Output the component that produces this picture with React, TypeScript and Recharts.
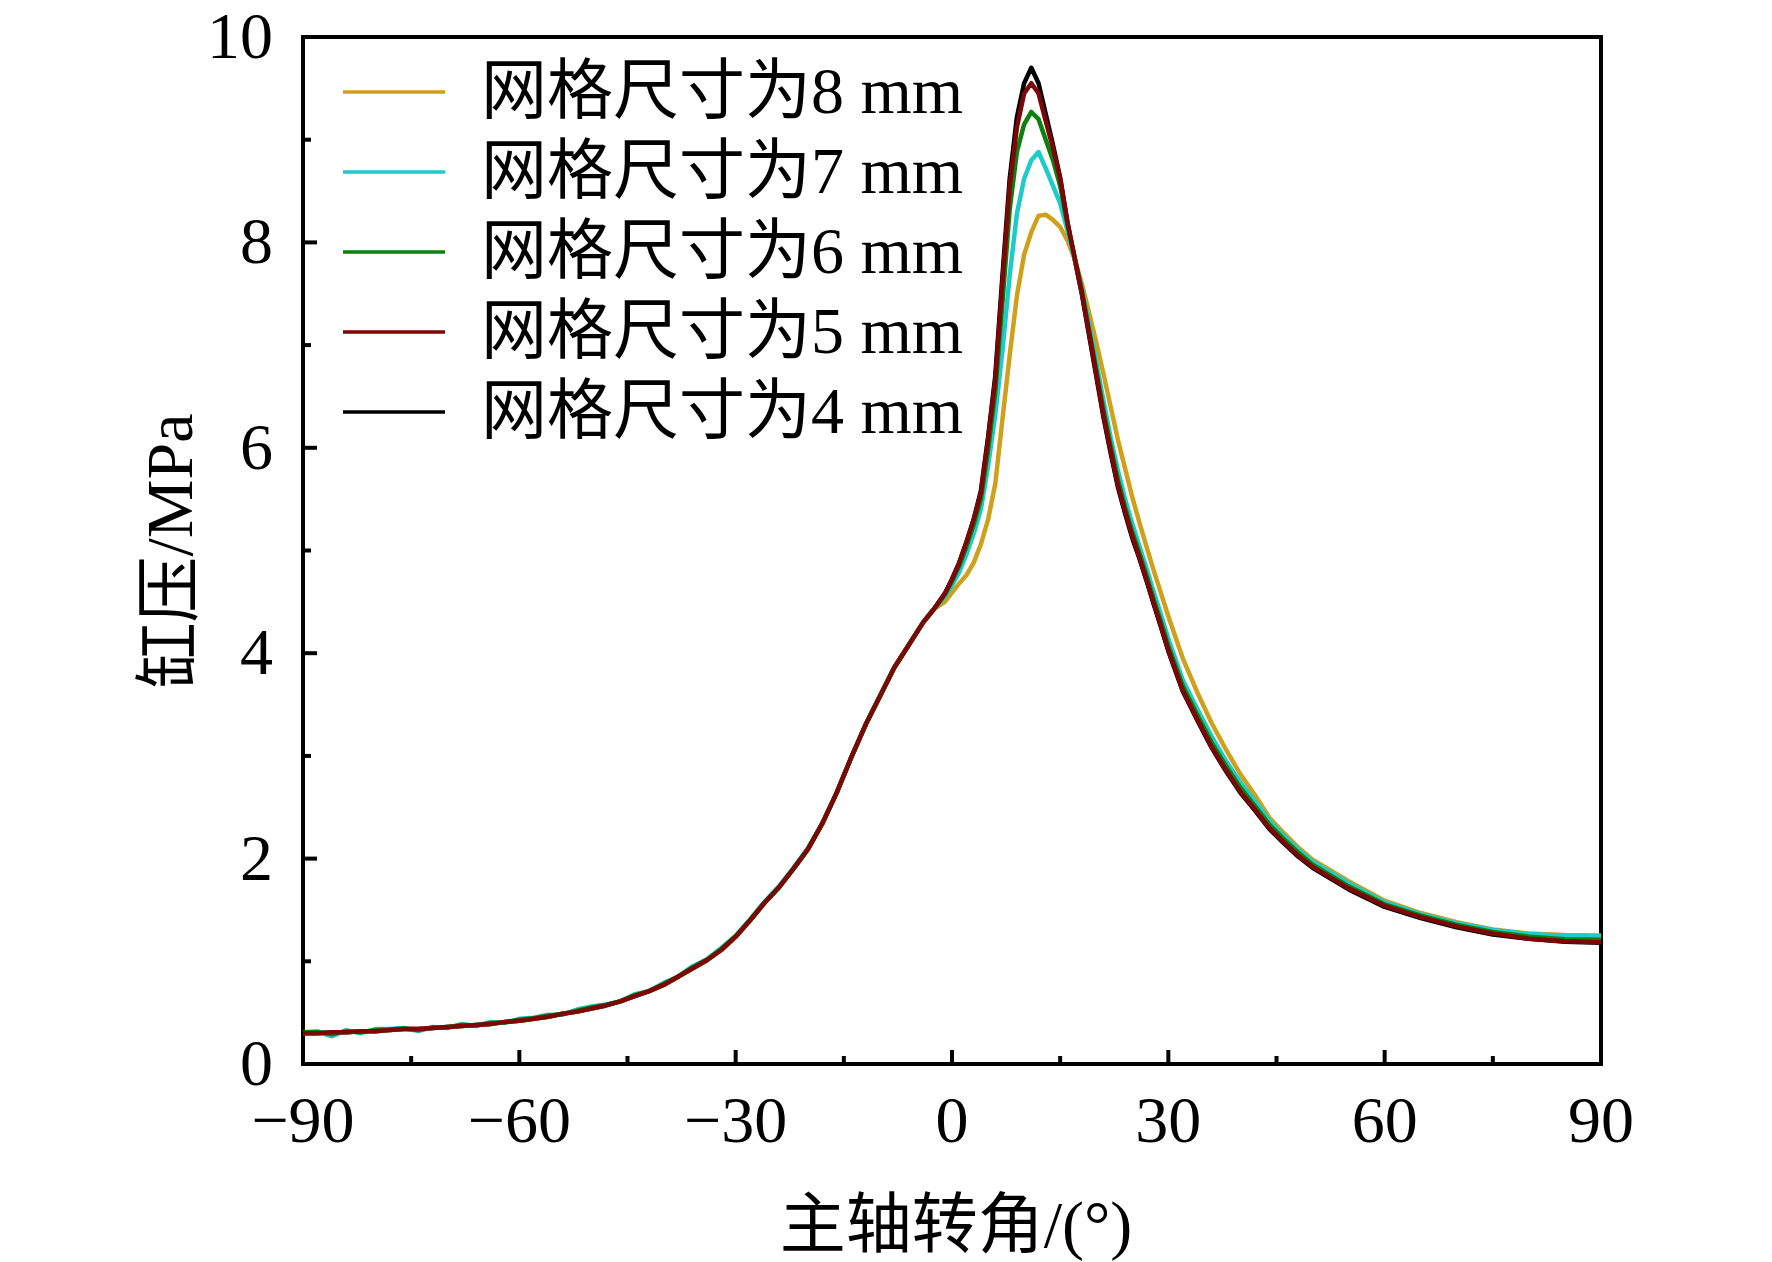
import { LineChart, Line, XAxis, YAxis, ReferenceArea, Legend, Label } from 'recharts';

// crank angle (deg)
const angles = [
  -90, -88, -86, -84, -82, -80, -78, -76, -74, -72, -70, -68, -66, -64, -62, -60, -58, -56, -54, -52, -50, -48,
  -46, -44, -42, -40, -38, -36, -34, -32, -30, -28, -26, -24, -22, -20, -18, -16, -14, -12, -10, -8, -6, -4,
  -2.5, -1, 0, 1, 2, 3, 4, 5, 6, 7, 8, 9, 10, 11, 12, 13, 14, 15, 16, 17, 18, 19, 20, 21, 22, 23, 24, 25, 26, 27,
  28, 29, 30, 32, 34, 36, 38, 40, 42, 44, 46, 48, 50, 55, 60, 65, 70, 75, 80, 85, 90,
];

// compression stroke, same for all meshes up to -4 deg
const baseLeft = [
  0.3, 0.3, 0.31, 0.31, 0.32, 0.32, 0.33, 0.34, 0.34, 0.35, 0.36, 0.37, 0.38, 0.39, 0.41, 0.42, 0.44, 0.46, 0.49,
  0.51, 0.54, 0.57, 0.61, 0.66, 0.71, 0.77, 0.85, 0.93, 1.01, 1.11, 1.24, 1.4, 1.57, 1.72, 1.9, 2.09, 2.34, 2.64,
  2.98, 3.3, 3.58, 3.86, 4.08, 4.3,
];
const cyanLeft = [
  0.31, 0.32, 0.27, 0.33, 0.3, 0.34, 0.34, 0.35, 0.32, 0.36, 0.35, 0.39, 0.37, 0.41, 0.4, 0.44, 0.45, 0.48, 0.48,
  0.53, 0.56, 0.58, 0.61, 0.68, 0.71, 0.79, 0.85, 0.95, 1.02, 1.13, 1.25, 1.41, 1.58, 1.73, 1.91, 2.1, 2.34, 2.64,
  2.98, 3.3, 3.58, 3.86, 4.08, 4.3,
];
const greenLeft = [
  0.31, 0.31, 0.29, 0.32, 0.31, 0.33, 0.335, 0.345, 0.33, 0.355, 0.355, 0.38, 0.375, 0.4, 0.405, 0.43, 0.445, 0.47,
  0.485, 0.52, 0.55, 0.575, 0.61, 0.67, 0.71, 0.78, 0.85, 0.94, 1.015, 1.12, 1.245, 1.4, 1.57, 1.72, 1.9, 2.09,
  2.34, 2.64, 2.98, 3.3, 3.58, 3.86, 4.08, 4.3,
];

// from -2.5 deg to 90 deg
const mesh8 = [
  4.43, 4.5, 4.59, 4.68, 4.76, 4.88, 5.06, 5.3, 5.65, 6.28, 6.9, 7.48, 7.88, 8.1, 8.26, 8.27, 8.22, 8.15, 8.02, 7.84,
  7.6, 7.32, 7.03, 6.72, 6.4, 6.08, 5.8, 5.52, 5.27, 5.03, 4.8, 4.58, 4.36, 3.95, 3.62, 3.32, 3.06, 2.82, 2.62, 2.4,
  2.25, 2.11, 1.99, 1.78, 1.59, 1.47, 1.38, 1.31, 1.27, 1.255, 1.25,
];
const mesh7 = [
  4.43, 4.55, 4.66, 4.79, 4.96, 5.16, 5.4, 5.82, 6.32, 6.95, 7.68, 8.28, 8.62, 8.8, 8.88, 8.72, 8.55, 8.38, 8.12,
  7.84, 7.56, 7.2, 6.84, 6.46, 6.1, 5.78, 5.5, 5.26, 5.04, 4.82, 4.59, 4.37, 4.14, 3.74, 3.46, 3.19, 2.95, 2.74,
  2.56, 2.37, 2.22, 2.09, 1.97, 1.76, 1.575, 1.46, 1.37, 1.305, 1.265, 1.25, 1.245,
];
const mesh6 = [
  4.43, 4.57, 4.7, 4.85, 5.04, 5.25, 5.5, 5.98, 6.55, 7.42, 8.32, 8.88, 9.15, 9.27, 9.2, 9.0, 8.8, 8.55, 8.18, 7.86,
  7.53, 7.15, 6.76, 6.37, 6.02, 5.69, 5.42, 5.18, 4.97, 4.75, 4.52, 4.3, 4.07, 3.68, 3.4, 3.13, 2.9, 2.69, 2.51,
  2.33, 2.19, 2.06, 1.94, 1.73, 1.555, 1.445, 1.355, 1.285, 1.24, 1.215, 1.21,
];
const mesh5 = [
  4.43, 4.58, 4.72, 4.88, 5.08, 5.3, 5.56, 6.08, 6.66, 7.62, 8.55, 9.12, 9.45, 9.55, 9.45, 9.18, 8.92, 8.62, 8.2,
  7.85, 7.51, 7.12, 6.72, 6.32, 5.97, 5.64, 5.38, 5.14, 4.93, 4.71, 4.48, 4.26, 4.03, 3.64, 3.36, 3.09, 2.86, 2.65,
  2.48, 2.3, 2.16, 2.03, 1.92, 1.71, 1.54, 1.43, 1.34, 1.27, 1.22, 1.195, 1.185,
];
const mesh4 = [
  4.43, 4.58, 4.72, 4.88, 5.08, 5.3, 5.58, 6.1, 6.7, 7.68, 8.62, 9.22, 9.55, 9.7, 9.55, 9.25, 8.95, 8.63, 8.2, 7.84,
  7.5, 7.1, 6.7, 6.3, 5.95, 5.62, 5.36, 5.12, 4.92, 4.7, 4.47, 4.25, 4.02, 3.63, 3.35, 3.08, 2.85, 2.64, 2.47, 2.29,
  2.15, 2.02, 1.91, 1.7, 1.53, 1.42, 1.33, 1.26, 1.22, 1.19, 1.18,
];

const xTicks = [-90, -75, -60, -45, -30, -15, 0, 15, 30, 45, 60, 75, 90];
const yTicks = [0, 1, 2, 3, 4, 5, 6, 7, 8, 9, 10];

// legend order
const series = [
  { key: 'm8', name: '网格尺寸为8 mm', color: '#CFA01C', values: [...baseLeft, ...mesh8] },
  { key: 'm7', name: '网格尺寸为7 mm', color: '#1FCACA', values: [...cyanLeft, ...mesh7] },
  { key: 'm6', name: '网格尺寸为6 mm', color: '#0E800E', values: [...greenLeft, ...mesh6] },
  { key: 'm5', name: '网格尺寸为5 mm', color: '#7D0606', values: [...baseLeft, ...mesh5] },
  { key: 'm4', name: '网格尺寸为4 mm', color: '#000000', values: [...baseLeft, ...mesh4] },
];
// drawing order (bottom to top)
const drawOrder = ['m4', 'm8', 'm7', 'm6', 'm5'];

const data = angles.map((a, i) => {
  const row: Record<string, number> = { angle: a };
  series.forEach((s) => (row[s.key] = s.values[i]));
  return row;
});

const FONT = "'Liberation Serif', 'Times New Roman', 'Noto Sans CJK SC', serif";
const fmt = (v: number) => (v < 0 ? '\u2212' + Math.abs(v) : String(v));

function XTick({ x, y, payload }: any) {
  const major = payload.value % 30 === 0;
  return (
    <g>
      <line x1={x} x2={x} y1={y} y2={y - (major ? 14 : 8)} stroke="#000" strokeWidth={4} />
      {major && (
        <text x={x} y={y + 78} textAnchor="middle" fontSize={66} fontFamily={FONT} fill="#000">
          {fmt(payload.value)}
        </text>
      )}
    </g>
  );
}

function YTick({ x, y, payload }: any) {
  const major = payload.value % 2 === 0;
  return (
    <g>
      <line x1={x} x2={x + (major ? 14 : 8)} y1={y} y2={y} stroke="#000" strokeWidth={4} />
      {major && (
        <text x={x - 30} y={y + 21} textAnchor="end" fontSize={66} fontFamily={FONT} fill="#000">
          {payload.value}
        </text>
      )}
    </g>
  );
}

function LegendBox({ payload }: any) {
  const items = series
    .map((s) => (payload || []).find((p: any) => p.dataKey === s.key) || { value: s.name, color: s.color })
    .filter(Boolean);
  return (
    <svg width={1000} height={460} style={{ display: 'block' }}>
      {items.map((p: any, i: number) => {
        const cy = 92 + i * 80;
        return (
          <g key={p.value}>
            <line x1={343} x2={445} y1={cy} y2={cy} stroke={p.color} strokeWidth={3.5} />
            <text x={481} y={cy + 21} fontSize={66} fontFamily={FONT} fill="#000">
              {p.value}
            </text>
          </g>
        );
      })}
    </svg>
  );
}

export default function App() {
  const lines = drawOrder.map((k) => series.find((s) => s.key === k)!);
  return (
    <div style={{ position: 'absolute', left: 0, top: 0, background: '#fff' }}>
      <LineChart width={1772} height={1262} data={data} margin={{ top: 37, right: 171, bottom: 0, left: 0 }}>
        <XAxis
          dataKey="angle"
          type="number"
          domain={[-90, 90]}
          ticks={xTicks}
          interval={0}
          height={198}
          axisLine={false}
          tickLine={false}
          tickSize={0}
          tickMargin={0}
          tick={<XTick />}
          allowDataOverflow
        >
          <Label
            content={() => (
              <text x={956} y={1247} textAnchor="middle" fontSize={66} fontFamily={FONT} fill="#000">
                主轴转角/(°)
              </text>
            )}
          />
        </XAxis>
        <YAxis
          type="number"
          domain={[0, 10]}
          ticks={yTicks}
          interval={0}
          width={303}
          axisLine={false}
          tickLine={false}
          tickSize={0}
          tickMargin={0}
          tick={<YTick />}
          allowDataOverflow
        >
          <Label
            content={() => (
              <text
                x={192}
                y={551}
                textAnchor="middle"
                fontSize={66}
                fontFamily={FONT}
                fill="#000"
                transform="rotate(-90 192 551)"
              >
                缸压/MPa
              </text>
            )}
          />
        </YAxis>
        {lines.map((s) => (
          <Line
            key={s.key}
            dataKey={s.key}
            name={s.name}
            type="linear"
            stroke={s.color}
            strokeWidth={4.5}
            strokeLinejoin="round"
            dot={false}
            activeDot={false}
            isAnimationActive={false}
          />
        ))}
        <ReferenceArea x1={-90} x2={90} y1={0} y2={10} fill="none" stroke="#000" strokeWidth={4} />
        <Legend
          layout="horizontal"
          verticalAlign="middle"
          align="center"
          wrapperStyle={{ left: 0, top: 0, width: 1000, height: 460 }}
          content={<LegendBox />}
        />
      </LineChart>
    </div>
  );
}
